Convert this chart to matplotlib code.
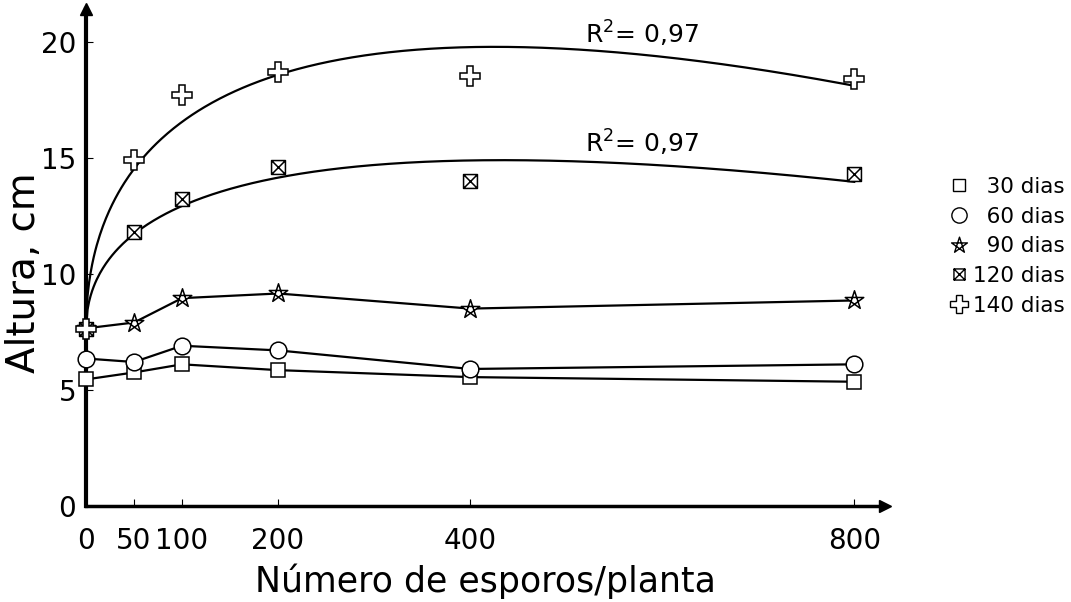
import numpy as np
import matplotlib
matplotlib.use("Agg")
import matplotlib.pyplot as plt
from matplotlib.path import Path
from matplotlib.lines import Line2D

plt.rcParams['font.family'] = ['DejaVu Sans']

# data
doses = [0, 50, 100, 200, 400, 800]
d30 = [5.45, 5.75, 6.1, 5.85, 5.55, 5.35]
d60 = [6.35, 6.2, 6.9, 6.7, 5.9, 6.1]
d90 = [7.65, 7.9, 8.95, 9.15, 8.5, 8.85]
d120 = [7.6, 11.8, 13.2, 14.6, 14.0, 14.3]
d140 = [7.6, 14.9, 17.7, 18.7, 18.5, 18.4]

# regression curves y = a + b*sqrt(x) + c*x (coefficients estimated from the figure)
fit120 = [7.6, 0.70, -0.0168]
fit140 = [7.6, 1.18, -0.0286]
r2_labels = ["R$^{2}$= 0,97", "R$^{2}$= 0,97"]
labels = ["\u200730 dias", "\u200760 dias", "\u200790 dias", "120 dias", "140 dias"]
xticks = [0, 50, 100, 200, 400, 800]
yticks = [0, 5, 10, 15, 20]

# marker shapes
boxx = Path([(-1, -1), (1, -1), (1, 1), (-1, 1), (-1, -1), (1, 1), (-1, 1), (1, -1)],
            [Path.MOVETO, Path.LINETO, Path.LINETO, Path.LINETO, Path.CLOSEPOLY,
             Path.LINETO, Path.MOVETO, Path.LINETO])
ang = np.deg2rad(90 + 144 * np.arange(5))
pent = np.column_stack([np.cos(ang), np.sin(ang)])
star = Path(np.vstack([pent, pent[:1]]),
            [Path.MOVETO] + [Path.LINETO] * 4 + [Path.CLOSEPOLY])

fig = plt.figure(figsize=(10.71, 6.02), dpi=100)
ax = fig.add_axes([0.0803, 0.1595, 0.746, 0.8255])

mk = dict(color='black', markerfacecolor='white', markeredgecolor='black',
          markeredgewidth=1.1, linewidth=1.6, clip_on=False, zorder=3)
ax.plot(doses, d30, marker='s', markersize=10, **mk)
ax.plot(doses, d60, marker='o', markersize=12, **mk)
ax.plot(doses, d90, marker=star, markersize=14, **mk)

xs = np.linspace(0, 800, 500)
for fit in (fit120, fit140):
    ax.plot(xs, fit[0] + fit[1] * np.sqrt(xs) + fit[2] * xs, color='black', lw=1.6, zorder=2)
ax.plot(doses, d120, linestyle='none', marker=boxx, markersize=10,
        markerfacecolor='white', markeredgecolor='black', markeredgewidth=1.1, zorder=4, clip_on=False)
ax.plot(doses, d140, linestyle='none', marker='P', markersize=14,
        markerfacecolor='white', markeredgecolor='black', markeredgewidth=1.1, zorder=4, clip_on=False)

ax.text(520, 20.35, r2_labels[0], fontsize=18, ha='left', va='center')
ax.text(520, 15.65, r2_labels[1], fontsize=18, ha='left', va='center')

ax.set_xlim(0, 832)
ax.set_ylim(0, 21.4)
ax.set_xticks(xticks)
ax.set_yticks(yticks)
ax.tick_params(direction='in', length=5, width=0.8, labelsize=20)
ax.tick_params(axis='x', pad=15)
ax.tick_params(axis='y', pad=7)
for s in ('top', 'right'):
    ax.spines[s].set_visible(False)
ax.spines['left'].set_linewidth(3)
ax.spines['bottom'].set_linewidth(2.5)
ax.plot(1, 0, '>k', markersize=9, transform=ax.transAxes, clip_on=False)
ax.plot(0, 1, '^k', markersize=9, transform=ax.transAxes, clip_on=False)

ax.set_xlabel("Número de esporos/planta", fontsize=25, labelpad=6)
ax.set_ylabel("Altura, cm", fontsize=28)
ax.yaxis.set_label_coords(-0.054, 0.47)

handles = [
    Line2D([], [], linestyle='none', marker='s', markersize=8, markerfacecolor='white', markeredgecolor='black'),
    Line2D([], [], linestyle='none', marker='o', markersize=11, markerfacecolor='white', markeredgecolor='black'),
    Line2D([], [], linestyle='none', marker=star, markersize=12, markerfacecolor='white', markeredgecolor='black'),
    Line2D([], [], linestyle='none', marker=boxx, markersize=8, markerfacecolor='white', markeredgecolor='black'),
    Line2D([], [], linestyle='none', marker='P', markersize=13, markerfacecolor='white', markeredgecolor='black'),
]
fig.legend(handles, labels, loc='center left', bbox_to_anchor=(0.876, 0.591), frameon=False,
           fontsize=15.5, handlelength=0.9, handletextpad=0.2, labelspacing=0.45, borderpad=0)

fig.savefig("out.png", dpi=100)
